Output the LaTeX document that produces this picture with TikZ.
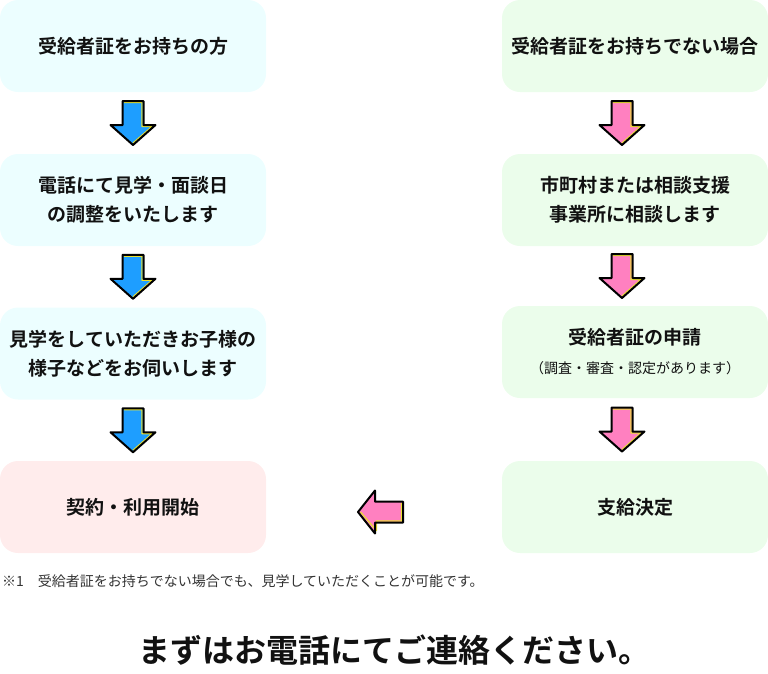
\documentclass[tikz,border=0pt]{standalone}
\usepackage{fontspec}
\newfontfamily\jp{Noto Sans CJK JP}[BoldFont=* Bold]
\usetikzlibrary{calc}
\definecolor{cyanbox}{HTML}{ECFEFF}
\definecolor{pinkbox}{HTML}{FFECEC}
\definecolor{greenbox}{HTML}{EBFDEB}
\definecolor{arrblue}{HTML}{1E9EFF}
\definecolor{arrpink}{HTML}{FF80C0}
\definecolor{arryel}{HTML}{E8E030}
\definecolor{txt}{HTML}{111111}
\definecolor{note}{HTML}{333333}
\tikzset{
  flowbox/.style={rounded corners=18pt, draw=none, minimum width=266pt, minimum height=92pt,
    align=center, text=txt, font=\jp\bfseries\fontsize{19}{29}\selectfont, inner sep=0pt},
  pics/downarr/.style={code={
    \fill[#1] (-10.5,-22) -- (10.5,-22) -- (10.5,2) -- (22.5,2) -- (0,22) -- (-22.5,2) -- (-10.5,2) -- cycle;
    \draw[arryel, line width=1.2pt, line join=round] (-9,-20.5) -- (9,-20.5) -- (9,3.5) -- (19,3.5) -- (0,20);
    \draw[black, line width=2pt, line join=round] (-10.5,-22) -- (10.5,-22) -- (10.5,2) -- (22.5,2) -- (0,22) -- (-22.5,2) -- (-10.5,2) -- cycle;
  }},
  pics/leftarr/.style={code={
    \fill[#1] (23,-10.5) -- (23,10.5) -- (-5,10.5) -- (-5,21.5) -- (-22,0) -- (-5,-21.5) -- (-5,-10.5) -- cycle;
    \draw[arryel, line width=1.2pt, line join=round] (21.5,-9) -- (21.5,9) -- (-3.5,9) -- (-3.5,18.5) -- (-19.5,0);
    \draw[black, line width=2pt, line join=round] (23,-10.5) -- (23,10.5) -- (-5,10.5) -- (-5,21.5) -- (-22,0) -- (-5,-21.5) -- (-5,-10.5) -- cycle;
  }}
}
\begin{document}
\begin{tikzpicture}[x=1pt,y=-1pt]
\useasboundingbox (0,0) rectangle (768,673);
% left column
\node[flowbox, fill=cyanbox] (L1) at (133,46) {受給者証をお持ちの方};
\node[flowbox, fill=cyanbox] (L2) at (133,200) {電話にて見学・面談日\\の調整をいたします};
\node[flowbox, fill=cyanbox] (L3) at (133,353.5) {見学をしていただきお子様の\\様子などをお伺いします};
\node[flowbox, fill=pinkbox] (L4) at (133,507) {契約・利用開始};
% right column
\node[flowbox, fill=greenbox] (R1) at (635,46) {受給者証をお持ちでない場合};
\node[flowbox, fill=greenbox] (R2) at (635,200) {市町村または相談支援\\事業所に相談します};
\node[flowbox, fill=greenbox] (R3) at (635,352) {{\fontsize{19}{22}\selectfont 受給者証の申請}\\{\mdseries\fontsize{14}{22}\selectfont （調査・審査・認定があります）}};
\node[flowbox, fill=greenbox] (R4) at (635,507) {支給決定};
% arrows
\pic at ($(L1.south)!0.5!(L2.north)$) {downarr=arrblue};
\pic at ($(L2.south)!0.5!(L3.north)$) {downarr=arrblue};
\pic at ($(L3.south)!0.5!(L4.north)$) {downarr=arrblue};
\pic at ($($(R1.south)!0.5!(R2.north)$)+(-13,0)$) {downarr=arrpink};
\pic at ($($(R2.south)!0.5!(R3.north)$)+(-13,0)$) {downarr=arrpink};
\pic at ($($(R3.south)!0.5!(R4.north)$)+(-13,0)$) {downarr=arrpink};
\pic at ($($(L4.east)!0.5!(R4.west)$)+(-4,5)$) {leftarr=arrpink};
% texts
\node[anchor=west, inner sep=0pt, text=note, font=\jp\fontsize{14}{16}\selectfont] (fn) at (2,581)
  {※1　受給者証をお持ちでない場合でも、見学していただくことが可能です。};
\node[inner sep=0pt, text=txt, font=\jp\bfseries\fontsize{32}{36}\selectfont] (call) at (394,650)
  {まずはお電話にてご連絡ください。};
\end{tikzpicture}
\end{document}
